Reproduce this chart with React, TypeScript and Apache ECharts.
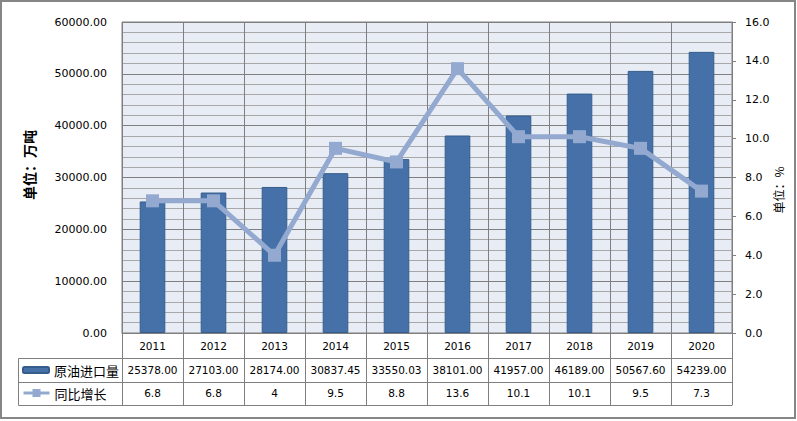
import React, { useEffect, useRef } from "react";
import * as echarts from "echarts";

const years = ["2011", "2012", "2013", "2014", "2015", "2016", "2017", "2018", "2019", "2020"];
const importVolume = [25378.0, 27103.0, 28174.0, 30837.45, 33550.03, 38101.0, 41957.0, 46189.0, 50567.6, 54239.0];
const yoyGrowth = [6.8, 6.8, 4, 9.5, 8.8, 13.6, 10.1, 10.1, 9.5, 7.3];

const W = 797;
const H = 421;
const G_LEFT = 122;
const G_TOP = 22;
const G_W = 610;
const G_H = 311;
const ROW1 = 25;
const ROW2 = 24;
const ROW3 = 23;
const TABLE_LEFT = 18.5;

const FONT = '"DejaVu Sans", Verdana, sans-serif';
const CJK = '"Noto Sans CJK SC", sans-serif';
const GRID_DARK = "#7f7f7f";
const GRID_LIGHT = "#a8a8a8";
const BAR = "#4571a8";
const BAR_BORDER = "#355d8c";
const LINE = "#93a9d0";

export default function App() {
  const ref = useRef<HTMLDivElement>(null);
  useEffect(() => {
    if (!ref.current) return;
    const chart = echarts.init(ref.current, null, { renderer: "svg" });
    const gBottom = G_TOP + G_H;
    const y1 = gBottom + ROW1;
    const y2 = y1 + ROW2;
    const y3 = y2 + ROW3;

    const tableAxis = (offset: number, tickLen: number, fmt: ((v: string, i: number) => string) | null, margin: number) => ({
      type: "category",
      data: years,
      position: "bottom",
      offset,
      gridIndex: 0,
      axisLine: { show: true, onZero: false, lineStyle: { color: GRID_DARK, width: 1 } },
      axisTick: { show: tickLen > 0, length: tickLen, interval: 0, lineStyle: { color: GRID_DARK } },
      axisLabel: fmt
        ? { show: true, interval: 0, margin, color: "#000", fontSize: 10.5, fontFamily: FONT, formatter: fmt }
        : { show: false },
      splitLine: { show: false },
    });

    const option: any = {
      animation: false,
      backgroundColor: "#ffffff",
      grid: {
        left: G_LEFT,
        top: G_TOP,
        width: G_W,
        height: G_H,
        show: true,
        backgroundColor: "#e8ecf5",
        borderColor: GRID_DARK,
        borderWidth: 1,
      },
      legend: [
        {
          data: ["原油进口量"],
          left: 22,
          top: 363,
          padding: 0,
          itemWidth: 26,
          itemHeight: 6,
          selectedMode: false,
          textStyle: { fontSize: 13, fontFamily: CJK, color: "#000", lineHeight: 14 },
        },
        {
          data: ["同比增长"],
          left: 22,
          top: 386,
          padding: 0,
          itemWidth: 26,
          itemHeight: 10,
          selectedMode: false,
          lineStyle: { width: 3 },
          textStyle: { fontSize: 13, fontFamily: CJK, color: "#000", lineHeight: 14 },
        },
      ],
      xAxis: [
        {
          type: "category",
          data: years,
          position: "bottom",
          offset: 0,
          axisLine: { show: true, onZero: false, lineStyle: { color: GRID_DARK } },
          axisTick: { show: true, length: ROW1, interval: 0, lineStyle: { color: GRID_DARK } },
          axisLabel: { interval: 0, margin: 7, color: "#000", fontSize: 10.5, fontFamily: FONT },
          splitLine: { show: true, interval: 0, lineStyle: { color: GRID_DARK } },
        },
        tableAxis(ROW1, ROW2, (_v: string, i: number) => importVolume[i].toFixed(2), 6),
        tableAxis(ROW1 + ROW2, ROW3, (_v: string, i: number) => String(yoyGrowth[i]), 5),
        tableAxis(ROW1 + ROW2 + ROW3, 0, null, 0),
      ],
      yAxis: [
        {
          type: "value",
          position: "left",
          min: 0,
          max: 60000,
          interval: 10000,
          name: "单位：万吨",
          nameLocation: "middle",
          nameRotate: 90,
          nameGap: 86,
          nameMoveOverlap: false,
          nameTextStyle: { fontSize: 14, fontWeight: "bold", fontFamily: CJK, color: "#000", padding: [0, 0, 0, 25] },
          axisLine: { show: false },
          axisTick: { show: false },
          axisLabel: { margin: 15, color: "#000", fontSize: 11, fontFamily: FONT, formatter: (v: number) => v.toFixed(2) },
          splitLine: { show: true, lineStyle: { color: GRID_DARK } },
          minorTick: { show: false, splitNumber: 5 },
          minorSplitLine: { show: true, lineStyle: { color: GRID_LIGHT } },
        },
        {
          type: "value",
          position: "right",
          min: 0,
          max: 16,
          interval: 2,
          name: "单位：%",
          nameLocation: "middle",
          nameRotate: 90,
          nameGap: 40,
          nameMoveOverlap: false,
          nameTextStyle: { fontSize: 12, fontFamily: CJK, color: "#000", padding: [0, 25, 0, 0] },
          axisLine: { show: true, lineStyle: { color: GRID_DARK } },
          axisTick: { show: true, length: 4, lineStyle: { color: GRID_DARK } },
          axisLabel: { margin: 13, color: "#000", fontSize: 11, fontFamily: FONT, formatter: (v: number) => v.toFixed(1) },
          splitLine: { show: false },
        },
      ],
      series: [
        {
          name: "原油进口量",
          type: "bar",
          xAxisIndex: 0,
          yAxisIndex: 0,
          data: importVolume,
          barWidth: "42%",
          itemStyle: { color: BAR, borderColor: BAR_BORDER, borderWidth: 1 },
        },
        {
          name: "同比增长",
          type: "line",
          xAxisIndex: 0,
          yAxisIndex: 1,
          data: yoyGrowth,
          symbol: "rect",
          symbolSize: 13,
          lineStyle: { color: LINE, width: 5 },
          itemStyle: { color: LINE },
          z: 5,
        },
      ],
      graphic: [
        {
          type: "rect",
          silent: true,
          shape: { x: 1, y: 1, width: W - 3, height: H - 4 },
          style: { fill: "none", stroke: "#868686", lineWidth: 2 },
        },
        {
          type: "line",
          silent: true,
          shape: { x1: TABLE_LEFT, y1: y1 + 0.5, x2: G_LEFT, y2: y1 + 0.5 },
          style: { stroke: GRID_DARK, lineWidth: 1 },
        },
        {
          type: "line",
          silent: true,
          shape: { x1: TABLE_LEFT, y1: y2 + 0.5, x2: G_LEFT, y2: y2 + 0.5 },
          style: { stroke: GRID_DARK, lineWidth: 1 },
        },
        {
          type: "line",
          silent: true,
          shape: { x1: TABLE_LEFT, y1: y3 + 0.5, x2: G_LEFT, y2: y3 + 0.5 },
          style: { stroke: GRID_DARK, lineWidth: 1 },
        },
        {
          type: "line",
          silent: true,
          shape: { x1: TABLE_LEFT, y1: y1 + 0.5, x2: TABLE_LEFT, y2: y3 + 0.5 },
          style: { stroke: GRID_DARK, lineWidth: 1 },
        },
      ],
    };
    chart.setOption(option);
    return () => chart.dispose();
  }, []);
  return <div ref={ref} style={{ position: "absolute", left: 0, top: 0, width: W, height: H }} />;
}
